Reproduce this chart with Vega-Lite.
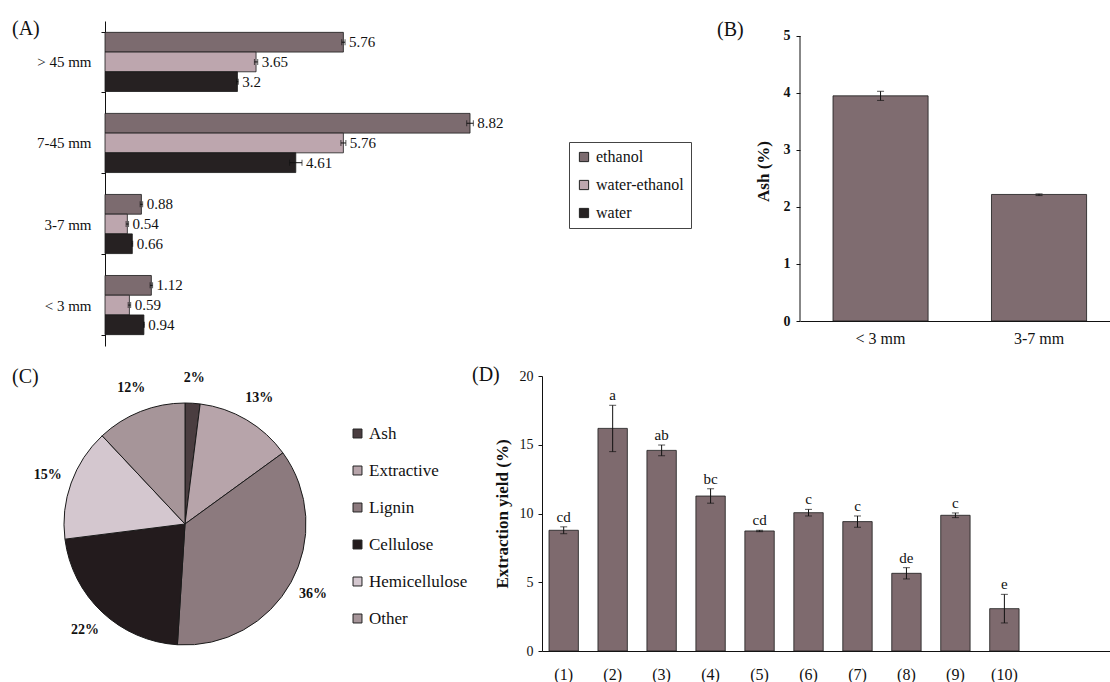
{
  "$schema": "https://vega.github.io/schema/vega-lite/v6.json",
  "padding": {"left": 12, "top": 14, "right": 0, "bottom": 0},
  "spacing": 18,
  "bounds": "full",
  "resolve": {"scale": {"color": "independent"}, "legend": {"color": "independent"}},
  "config": {
    "font": "Liberation Serif",
    "view": {"stroke": null},
    "axis": {"labelFont": "Liberation Serif", "titleFont": "Liberation Serif", "labelColor": "#111", "titleColor": "#111", "domainColor": "#111", "tickColor": "#111", "grid": false, "domainWidth": 1},
    "legend": {"labelFont": "Liberation Serif", "labelColor": "#111"},
    "title": {"font": "Liberation Serif", "fontSize": 20, "fontWeight": "normal", "color": "#111"},
    "text": {"font": "Liberation Serif", "color": "#111"}
  },
  "vconcat": [
    {
      "hconcat": [
        {
          "width": 418,
          "height": 325,
          "title": {"text": "(A)", "anchor": "start", "frame": "group", "offset": 0, "dx": -93, "dy": 40.5, "baseline": "alphabetic"},
          "data": {"values": [
            {"size": "> 45 mm", "solvent": "ethanol", "value": 5.76, "lo": 5.72, "hi": 5.80, "lab": "5.76"},
            {"size": "> 45 mm", "solvent": "water-ethanol", "value": 3.65, "lo": 3.61, "hi": 3.69, "lab": "3.65"},
            {"size": "> 45 mm", "solvent": "water", "value": 3.2, "lo": 3.18, "hi": 3.22, "lab": "3.2"},
            {"size": "7-45 mm", "solvent": "ethanol", "value": 8.82, "lo": 8.74, "hi": 8.90, "lab": "8.82"},
            {"size": "7-45 mm", "solvent": "water-ethanol", "value": 5.76, "lo": 5.70, "hi": 5.82, "lab": "5.76"},
            {"size": "7-45 mm", "solvent": "water", "value": 4.61, "lo": 4.46, "hi": 4.76, "lab": "4.61"},
            {"size": "3-7 mm", "solvent": "ethanol", "value": 0.88, "lo": 0.85, "hi": 0.91, "lab": "0.88"},
            {"size": "3-7 mm", "solvent": "water-ethanol", "value": 0.54, "lo": 0.51, "hi": 0.57, "lab": "0.54"},
            {"size": "3-7 mm", "solvent": "water", "value": 0.66, "lo": 0.65, "hi": 0.67, "lab": "0.66"},
            {"size": "< 3 mm", "solvent": "ethanol", "value": 1.12, "lo": 1.09, "hi": 1.15, "lab": "1.12"},
            {"size": "< 3 mm", "solvent": "water-ethanol", "value": 0.59, "lo": 0.56, "hi": 0.62, "lab": "0.59"},
            {"size": "< 3 mm", "solvent": "water", "value": 0.94, "lo": 0.93, "hi": 0.95, "lab": "0.94"}
          ]},
          "encoding": {
            "y": {"field": "size", "type": "nominal", "sort": ["> 45 mm", "7-45 mm", "3-7 mm", "< 3 mm"],
                  "scale": {"paddingInner": 0.27, "paddingOuter": 0.14},
                  "axis": {"title": null, "tickBand": "extent", "tickSize": 4, "labelPadding": 10, "labelFontSize": 15}},
            "yOffset": {"field": "solvent", "type": "nominal", "sort": ["ethanol", "water-ethanol", "water"], "scale": {"paddingInner": 0, "paddingOuter": 0}}
          },
          "layer": [
            {"mark": {"type": "bar", "stroke": "#1a1a1a", "strokeWidth": 0.8},
             "encoding": {
               "x": {"field": "value", "type": "quantitative", "scale": {"domain": [0, 10.1], "nice": false}, "axis": null},
               "color": {"field": "solvent", "type": "nominal",
                         "scale": {"domain": ["ethanol", "water-ethanol", "water"], "range": ["#7c6b6f", "#bda6ae", "#262122"]},
                         "legend": {"orient": "none", "legendX": 464, "legendY": 121, "title": null, "strokeColor": "#444", "padding": 7, "rowPadding": 12, "symbolType": "square", "symbolSize": 85, "symbolStrokeColor": "#222", "symbolStrokeWidth": 1, "labelFont": "Liberation Serif", "labelFontSize": 16, "labelOffset": 4}}
             }},
            {"mark": {"type": "rule", "color": "#111"},
             "encoding": {"x": {"field": "lo", "type": "quantitative"}, "x2": {"field": "hi"}}},
            {"mark": {"type": "tick", "color": "#111", "size": 6, "thickness": 1},
             "encoding": {"x": {"field": "hi", "type": "quantitative"}}},
            {"mark": {"type": "tick", "color": "#111", "size": 6, "thickness": 1},
             "encoding": {"x": {"field": "lo", "type": "quantitative"}}},
            {"mark": {"type": "text", "align": "left", "baseline": "middle", "dx": 4, "fontSize": 15},
             "encoding": {"x": {"field": "hi", "type": "quantitative"}, "text": {"field": "lab"}}}
          ]
        },
        {
          "width": 310,
          "height": 300,
          "title": {"text": "(B)", "anchor": "start", "frame": "group", "offset": 0, "dx": -83, "dy": 35, "baseline": "alphabetic"},
          "data": {"values": [
            {"size": "< 3 mm", "ash": 3.95, "lo": 3.87, "hi": 4.03},
            {"size": "3-7 mm", "ash": 2.22, "lo": 2.20, "hi": 2.23}
          ]},
          "layer": [
            {"mark": {"type": "bar", "color": "#7f6c70", "stroke": "#1a1a1a", "strokeWidth": 0.8},
             "encoding": {
               "x": {"field": "size", "type": "nominal", "sort": null,
                     "scale": {"paddingInner": 0.4, "paddingOuter": 0.178, "align": 0.585},
                     "axis": {"title": null, "labelAngle": 0, "ticks": false, "labelPadding": 9, "labelFontSize": 16}},
               "y": {"field": "ash", "type": "quantitative", "scale": {"domain": [0, 5.263], "nice": false},
                     "axis": {"title": "Ash (%)", "values": [0, 1, 2, 3, 4, 5], "format": "d", "domain": false, "tickSize": 4, "labelFontWeight": "bold", "labelFontSize": 14, "labelPadding": 6, "titleFontSize": 17, "titleFontWeight": "bold", "titlePadding": 11}}
             }},
            {"data": {"values": [{"k": 1}]},
             "mark": {"type": "rule", "color": "#111"},
             "encoding": {"x": {"datum": "< 3 mm", "bandPosition": -0.347}, "y": {"datum": 0}, "y2": {"datum": 5}}},
            {"mark": {"type": "rule", "color": "#111"},
             "encoding": {"x": {"field": "size", "type": "nominal", "sort": null}, "y": {"field": "lo", "type": "quantitative"}, "y2": {"field": "hi"}}},
            {"mark": {"type": "tick", "color": "#111", "size": 7, "thickness": 1},
             "encoding": {"x": {"field": "size", "type": "nominal", "sort": null}, "y": {"field": "hi", "type": "quantitative"}}},
            {"mark": {"type": "tick", "color": "#111", "size": 7, "thickness": 1},
             "encoding": {"x": {"field": "size", "type": "nominal", "sort": null}, "y": {"field": "lo", "type": "quantitative"}}}
          ]
        }
      ],
      "spacing": 277,
      "bounds": "flush"
    },
    {
      "hconcat": [
        {
          "width": 160,
          "height": 296,
          "title": {"text": "(C)", "anchor": "start", "frame": "group", "offset": 0, "dx": -93, "dy": 32, "baseline": "alphabetic"},
          "data": {"values": [
            {"comp": "Ash", "pct": 2, "lab": "2%", "idx": 1},
            {"comp": "Extractive", "pct": 13, "lab": "13%", "idx": 2},
            {"comp": "Lignin", "pct": 36, "lab": "36%", "idx": 3},
            {"comp": "Cellulose", "pct": 22, "lab": "22%", "idx": 4},
            {"comp": "Hemicellulose", "pct": 15, "lab": "15%", "idx": 5},
            {"comp": "Other", "pct": 12, "lab": "12%", "idx": 6}
          ]},
          "encoding": {
            "theta": {"field": "pct", "type": "quantitative", "stack": true},
            "order": {"field": "idx", "type": "quantitative"}
          },
          "layer": [
            {"mark": {"type": "arc", "outerRadius": 121, "stroke": "#1a1a1a", "strokeWidth": 1},
             "encoding": {
               "color": {"field": "comp", "type": "nominal",
                         "scale": {"domain": ["Ash", "Extractive", "Lignin", "Cellulose", "Hemicellulose", "Other"],
                                   "range": ["#4a3d40", "#b7a4aa", "#8c7a7e", "#231b1d", "#d4c7cf", "#a69599"]},
                         "legend": {"orient": "none", "legendX": 244, "legendY": 49, "title": null, "symbolType": "square", "symbolSize": 80, "symbolStrokeColor": "#222", "symbolStrokeWidth": 1, "labelFont": "Liberation Serif", "labelFontSize": 17, "rowPadding": 19, "labelOffset": 3}}
             }},
            {"mark": {"type": "text", "radius": 146, "fontSize": 14, "fontWeight": "bold"},
             "encoding": {"text": {"field": "lab"}, "detail": {"field": "comp"}}}
          ]
        },
        {
          "width": 568,
          "height": 275,
          "title": {"text": "(D)", "anchor": "start", "frame": "group", "offset": 0, "dx": -70, "dy": 31.5, "baseline": "alphabetic"},
          "data": {"values": [
            {"trt": "(1)", "yield": 8.78, "lo": 8.53, "hi": 9.03, "grp": "cd"},
            {"trt": "(2)", "yield": 16.19, "lo": 14.50, "hi": 17.87, "grp": "a"},
            {"trt": "(3)", "yield": 14.59, "lo": 14.20, "hi": 14.98, "grp": "ab"},
            {"trt": "(4)", "yield": 11.27, "lo": 10.75, "hi": 11.80, "grp": "bc"},
            {"trt": "(5)", "yield": 8.73, "lo": 8.68, "hi": 8.78, "grp": "cd"},
            {"trt": "(6)", "yield": 10.06, "lo": 9.82, "hi": 10.30, "grp": "c"},
            {"trt": "(7)", "yield": 9.41, "lo": 9.00, "hi": 9.82, "grp": "c"},
            {"trt": "(8)", "yield": 5.65, "lo": 5.24, "hi": 6.06, "grp": "de"},
            {"trt": "(9)", "yield": 9.87, "lo": 9.70, "hi": 10.04, "grp": "c"},
            {"trt": "(10)", "yield": 3.08, "lo": 2.04, "hi": 4.12, "grp": "e"}
          ]},
          "encoding": {
            "x": {"field": "trt", "type": "nominal", "sort": null,
                  "scale": {"paddingInner": 0.4, "paddingOuter": 1.568, "align": 0.0715},
                  "axis": {"title": null, "labelAngle": 0, "ticks": false, "labelPadding": 15, "labelFontSize": 16}}
          },
          "layer": [
            {"mark": {"type": "bar", "color": "#7e6a6e", "stroke": "#1a1a1a", "strokeWidth": 0.8},
             "encoding": {
               "y": {"field": "yield", "type": "quantitative", "scale": {"domain": [0, 20], "nice": false},
                     "axis": {"title": "Extraction yield (%)", "values": [0, 5, 10, 15, 20], "tickSize": 4, "labelFontSize": 14, "labelPadding": 5, "titleFontSize": 17, "titleFontWeight": "bold", "titlePadding": 8}}
             }},
            {"mark": {"type": "rule", "color": "#111"},
             "encoding": {"y": {"field": "lo", "type": "quantitative"}, "y2": {"field": "hi"}}},
            {"mark": {"type": "tick", "color": "#111", "size": 7, "thickness": 1},
             "encoding": {"y": {"field": "hi", "type": "quantitative"}}},
            {"mark": {"type": "tick", "color": "#111", "size": 7, "thickness": 1},
             "encoding": {"y": {"field": "lo", "type": "quantitative"}}},
            {"mark": {"type": "text", "baseline": "bottom", "dy": -2, "fontSize": 15},
             "encoding": {"y": {"field": "hi", "type": "quantitative"}, "text": {"field": "grp"}}}
          ]
        }
      ],
      "spacing": 277,
      "bounds": "flush"
    }
  ]
}
